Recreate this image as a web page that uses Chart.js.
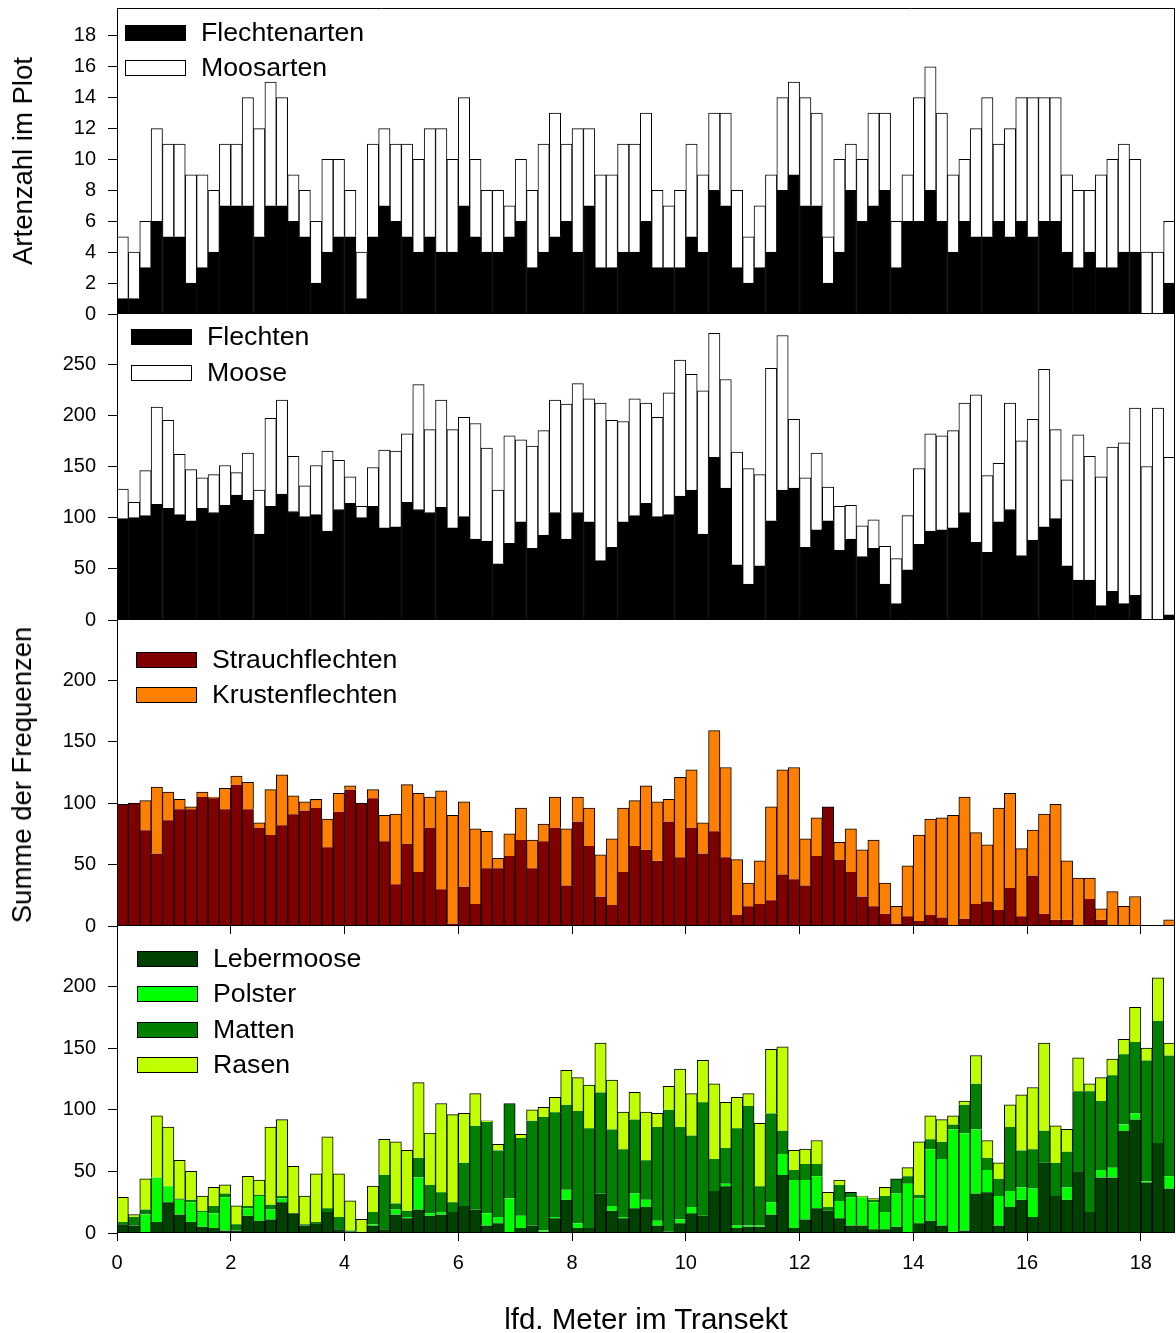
<!DOCTYPE html>
<html>
<head>
<meta charset="utf-8">
<script src="https://cdn.jsdelivr.net/npm/chart.js@4/dist/chart.umd.min.js"></script>
<style>
  body { margin: 0; background: #fff; }
  #wrap { position: relative; width: 1176px; height: 1333px; }
  canvas { position: absolute; left: 0; top: 0; }
  .t { position: absolute; font: 27.5px 'Liberation Sans', Arial, sans-serif; color: #000;
       white-space: nowrap; transform: translate(-50%, -50%); }
  .t.v { transform: translate(-50%, -50%) rotate(-90deg); }
  .t.x { font-size: 29.5px; }
</style>
</head>
<body>
<div id="wrap">
  <canvas id="p1" width="1176" height="1333"></canvas>
  <canvas id="p2" width="1176" height="1333"></canvas>
  <canvas id="p3" width="1176" height="1333"></canvas>
  <canvas id="p4" width="1176" height="1333"></canvas>
  <div class="t v" style="left:23px;top:161px">Artenzahl im Plot</div>
  <div class="t v" style="left:22px;top:775px">Summe der Frequenzen</div>
  <div class="t x" style="left:646px;top:1319px">lfd. Meter im Transekt</div>
</div>
<script>
"use strict";

// 93 plots of 20 cm along the transect (0 .. 18.6 m)
const METER = Array.from({length: 93}, (_, i) => (i * 0.2).toFixed(1));

// tick labels
const X_TICKS = [0, 2, 4, 6, 8, 10, 12, 14, 16, 18];
const Y_TICKS_ARTEN = [0, 2, 4, 6, 8, 10, 12, 14, 16, 18];
const Y_TICKS_SUMME = [0, 50, 100, 150, 200, 250];
const Y_TICKS_GRUPPE = [0, 50, 100, 150, 200];

// panel 1: species counts
const FLECHTENARTEN = [1,1,3,6,5,5,2,3,4,7, 7,7,5,7,7,6,5,2,4,5, 5,1,5,7,6,5,4,5,4,4,
  7,5,4,4,5,6,3,4,5,6, 4,7,3,3,4,4,6,3,3,3, 5,4,8,7,3,2,3,4,8,9, 7,7,2,4,8,6,7,8,3,6,
  6,8,6,4,6,5,5,6,5,6, 5,6,6,4,3,4,3,3,4,4, 0,0,2];
const MOOSARTEN = [4,3,3,6,6,6,7,6,4,4, 4,7,7,8,7,3,3,4,6,5, 3,3,6,5,5,6,6,7,8,6,
  7,5,4,4,2,4,5,7,8,5, 8,5,6,6,7,7,7,5,4,5, 6,5,5,6,5,3,4,5,6,6, 7,6,3,6,3,4,6,5,3,3,
  8,8,7,5,4,7,9,5,7,8, 9,8,8,5,5,4,6,7,7,6, 4,4,4];

// panel 3: lichen frequencies
const STRAUCH = [99,100,78,59,86,95,95,105,104,95, 115,95,80,74,82,91,94,96,64,93,
  111,100,104,69,34,67,44,80,30,2, 32,18,47,47,57,70,47,69,80,33, 85,65,24,17,44,65,62,53,85,56,
  80,59,77,56,9,16,18,21,42,38, 33,57,97,54,44,24,16,10,2,8, 4,9,7,0,6,18,20,13,31,8,
  41,10,5,5,0,22,5,0,0,0, 0,0,0];
const KRUSTEN = [0,0,24,54,23,8,2,4,1,17, 7,22,4,37,41,15,7,7,23,15, 3,0,7,21,57,48,64,25,80,88,
  69,61,30,8,18,26,23,14,25,46, 20,31,34,54,52,37,52,48,18,65, 47,25,82,73,45,19,35,76,85,91,
  38,31,0,14,35,38,54,25,14,41, 70,78,81,90,99,58,46,83,77,55, 37,81,94,48,39,17,9,28,16,24,
  0,0,5];

// panel 4: moss frequencies
const LEBER = [7,6,0,9,25,15,9,5,4,2, 2,14,10,11,25,16,6,8,17,3, 1,0,6,3,15,12,19,14,15,17,
  22,19,6,8,0,4,6,1,12,27, 4,4,32,18,12,20,21,6,1,8, 16,14,34,38,4,5,5,15,47,4,
  11,20,18,12,6,6,3,3,5,0, 8,10,6,1,2,32,33,6,21,27, 13,57,30,27,50,17,45,45,83,92, 41,73,36];
const POLSTER = [0,0,15,36,13,12,16,12,12,27, 0,6,20,8,3,0,0,0,0,0, 0,0,1,0,4,1,26,2,2,0,
  0,0,10,5,28,10,0,1,1,8, 4,0,0,4,1,12,6,4,0,3, 5,0,0,2,2,1,1,10,17,39,
  32,26,0,14,23,23,22,14,27,40, 20,58,54,83,79,52,18,24,13,10, 23,0,0,10,0,0,6,8,5,5, 1,0,10];
const MATTEN = [2,7,4,0,0,1,2,1,6,3, 5,2,1,4,2,0,1,1,3,10, 1,1,10,44,5,5,16,23,16,8,
  35,68,74,54,77,63,85,92,85,69, 91,81,82,62,55,60,32,76,99,75, 58,92,26,29,79,97,32,72,19,8,
  13,10,3,13,4,0,2,13,12,6, 3,8,14,4,23,37,10,14,52,30, 32,26,27,29,65,98,56,75,57,58, 98,99,98];
const RASEN = [20,2,25,50,48,31,23,12,15,7, 15,24,12,63,62,38,23,39,58,35, 24,10,21,29,50,49,61,42,72,71,
  40,26,1,5,0,3,9,8,12,28, 27,35,40,40,30,22,39,11,19,47, 34,34,61,37,25,10,51,52,68,16,
  12,19,12,4,0,1,1,7,0,7, 43,19,18,7,3,23,14,13,18,45, 50,71,30,18,27,6,19,13,12,28, 10,35,10];

// panel 2: totals per group
const FLECHTEN = STRAUCH.map((v, i) => v + KRUSTEN[i]);
const MOOSE = LEBER.map((v, i) => v + POLSTER[i] + MATTEN[i] + RASEN[i]);

const C = {strauch:'#800000', krusten:'#ff8000', leber:'#004000', polster:'#00ff00',
           matten:'#008000', rasen:'#bfff00'};
const FONT = "'Liberation Sans', Arial, Helvetica, sans-serif";
Chart.defaults.font.family = FONT;
Chart.defaults.color = '#000';

const W = 1176, H = 1333, LEFT = 117, RIGHT = 1175, XLAB = 60;

// box around each plot area (top edge only on the first panel)
const frame = {id: 'frame', afterDatasetsDraw(chart, args, o) {
  const {ctx, chartArea: a} = chart;
  ctx.save();
  ctx.strokeStyle = '#000'; ctx.lineWidth = 1;
  ctx.beginPath();
  ctx.moveTo(a.left + 0.5, a.top); ctx.lineTo(a.left + 0.5, a.bottom);
  ctx.moveTo(a.left, a.bottom - 0.5); ctx.lineTo(a.right, a.bottom - 0.5);
  ctx.moveTo(a.right - 0.5, a.top); ctx.lineTo(a.right - 0.5, a.bottom);
  if (o.top) { ctx.moveTo(a.left, a.top + 0.5); ctx.lineTo(a.right, a.top + 0.5); }
  ctx.stroke();
  ctx.restore();
}};

// SigmaPlot-style legend inside the plot, built from the datasets
const boxLegend = {id: 'boxLegend', afterDraw(chart, args, o) {
  const ctx = chart.ctx;
  ctx.save();
  ctx.font = '26.7px ' + FONT;
  ctx.textBaseline = 'middle';
  chart.data.datasets.forEach((ds, k) => {
    const cy = Math.round(o.y + k * o.gap);
    ctx.fillStyle = ds.backgroundColor;
    ctx.fillRect(o.x, cy - 8, 61, 16);
    ctx.strokeStyle = '#000'; ctx.lineWidth = 1;
    ctx.strokeRect(o.x + 0.5, cy - 7.5, 60, 15);
    ctx.fillStyle = '#000';
    ctx.fillText(ds.label, o.x + 76, cy + 1);
  });
  ctx.restore();
}};

// only the topmost visible segment of a stack gets a top edge
function stackBorder(ctx) {
  if (ctx.type !== 'data') return 1;
  const ds = ctx.chart.data.datasets, i = ctx.dataIndex;
  const above = ds.slice(ctx.datasetIndex + 1).some(d => d.data[i] > 0);
  return {left: 1, right: 1, top: above ? 0 : 1, bottom: 0};
}

function bars(label, data, color, edged) {
  return {label, data, xAxisID: 'x', yAxisID: 'y', backgroundColor: color,
    borderColor: '#000', borderWidth: edged ? 1 : stackBorder};
}

const fixTicks = list => s => { s.ticks = list.map(value => ({value})); };

function panel(id, top, bottom, yMax, yTicks, datasets, legend, xTicks) {
  const labH = xTicks === 'labels' ? XLAB : 0;
  return new Chart(document.getElementById(id), {
    type: 'bar',
    data: {labels: METER, datasets},
    options: {
      responsive: false, animation: false, events: [],
      layout: {padding: {left: 0, right: W - RIGHT, top, bottom: H - bottom - labH}},
      datasets: {bar: {categoryPercentage: 1, barPercentage: 1}},
      plugins: {legend: {display: false}, tooltip: {enabled: false},
        frame: {top: id === 'p1'}, boxLegend: legend},
      scales: {
        x: {display: false, stacked: true},
        m: {type: 'linear', axis: 'x', position: 'bottom', display: xTicks !== 'none',
          min: 0, max: 18.6, offset: false,
          afterBuildTicks: fixTicks(X_TICKS),
          afterFit: s => { s.height = labH; s.paddingLeft = 0; s.paddingRight = 0; },
          ticks: {display: xTicks === 'labels', padding: 10, font: {size: 20},
            maxRotation: 0, autoSkip: false},
          grid: {offset: false, drawOnChartArea: false, tickLength: 8, color: '#000'},
          border: {display: false}},
        y: {stacked: true, min: 0, max: yMax, position: 'left',
          afterBuildTicks: fixTicks(yTicks),
          afterFit: s => { s.width = LEFT; s.paddingTop = 0; s.paddingBottom = 0; },
          ticks: {padding: 12, font: {size: 20}, autoSkip: false},
          grid: {drawOnChartArea: false, tickLength: 9, color: '#000'},
          border: {display: false}}
      }
    },
    plugins: [frame, boxLegend]
  });
}

panel('p1', 8, 314, 19.8, Y_TICKS_ARTEN, [
  bars('Flechtenarten', FLECHTENARTEN, '#000', true),
  bars('Moosarten', MOOSARTEN, '#fff', true),
], {x: 125, y: 33, gap: 35}, 'none');

panel('p2', 314, 620, 299, Y_TICKS_SUMME, [
  bars('Flechten', FLECHTEN, '#000', true),
  bars('Moose', MOOSE, '#fff', true),
], {x: 131, y: 337, gap: 36}, 'none');

panel('p3', 620, 926, 249, Y_TICKS_GRUPPE, [
  bars('Strauchflechten', STRAUCH, C.strauch),
  bars('Krustenflechten', KRUSTEN, C.krusten),
], {x: 136, y: 660, gap: 35}, 'marks');

panel('p4', 926, 1233, 249, Y_TICKS_GRUPPE, [
  bars('Lebermoose', LEBER, C.leber),
  bars('Polster', POLSTER, C.polster),
  bars('Matten', MATTEN, C.matten),
  bars('Rasen', RASEN, C.rasen),
], {x: 137, y: 959, gap: 35.3}, 'labels');
</script>
</body>
</html>
